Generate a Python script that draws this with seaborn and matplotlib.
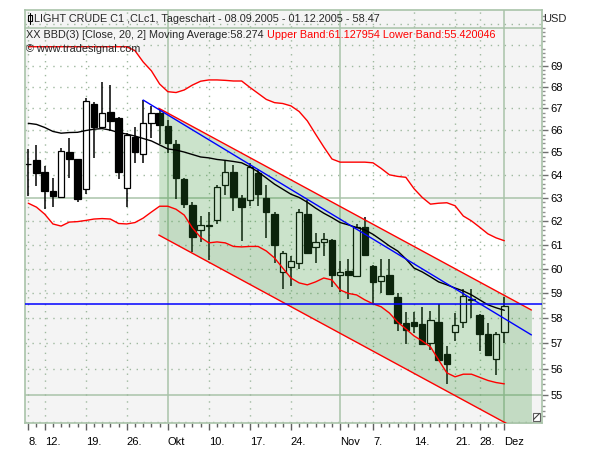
import numpy as np
import pandas as pd
import matplotlib
matplotlib.use("Agg")
import matplotlib.pyplot as plt
import seaborn as sns
from matplotlib.ticker import FixedLocator, FixedFormatter, NullFormatter
from matplotlib.patches import Rectangle

# ---------------- data ----------------
dates = [d for d in pd.bdate_range("2005-09-08", "2005-12-01")
         if d.strftime("%Y-%m-%d") not in ("2005-11-24", "2005-11-25")]

opens = [64.46, 64.66, 64.13, 63.28, 63.03, 65.01, 64.69, 63.36, 67.20, 66.16,
         66.82, 66.55, 63.40, 65.68, 64.91, 66.31, 66.77, 66.18, 65.37, 63.83,
         62.70, 61.60, 61.78, 62.03, 63.57, 64.11, 63.00, 62.92, 64.10, 62.98,
         62.29, 59.85, 60.05, 60.22, 62.29, 60.89, 61.10, 61.19, 59.75, 59.90,
         59.71, 61.74, 60.11, 59.49, 59.73, 58.84, 57.78, 57.82, 57.75, 56.99,
         57.82, 56.56, 57.43, 57.82, 58.76, 58.13, 57.35, 56.37, 57.43]
highs = [65.15, 65.33, 64.39, 63.86, 65.18, 65.64, 64.72, 67.46, 67.30, 68.23,
         68.08, 66.58, 65.85, 66.14, 67.39, 67.10, 66.95, 66.45, 65.55, 63.86,
         62.81, 62.21, 62.40, 63.55, 64.62, 64.44, 63.10, 64.50, 64.26, 63.57,
         62.40, 60.73, 60.50, 62.51, 62.88, 61.48, 61.48, 61.22, 60.31, 60.39,
         61.85, 62.15, 60.15, 60.38, 60.38, 58.99, 58.25, 58.22, 58.45, 58.29,
         58.57, 56.87, 58.18, 59.15, 59.15, 58.15, 57.78, 57.43, 58.85]
lows = [63.07, 63.52, 62.52, 62.60, 62.98, 63.88, 62.81, 63.16, 64.76, 66.05,
        65.96, 63.83, 62.60, 64.54, 64.54, 65.65, 65.35, 64.95, 62.96, 62.56,
        60.70, 61.12, 60.35, 61.86, 63.10, 62.44, 61.16, 62.65, 62.62, 61.29,
        60.21, 59.15, 59.30, 59.97, 60.60, 60.24, 60.53, 59.26, 59.05, 58.75,
        59.67, 60.50, 58.60, 58.99, 58.90, 57.47, 56.95, 57.38, 56.92, 56.72,
        56.30, 55.42, 57.09, 57.58, 57.98, 56.70, 56.50, 55.74, 57.01]
closes = [64.47, 64.07, 63.29, 63.07, 65.05, 64.72, 62.94, 67.32, 66.16, 66.77,
          66.43, 64.14, 65.78, 65.03, 66.31, 66.77, 66.21, 65.43, 63.88, 62.73,
          61.33, 61.81, 61.79, 63.46, 64.11, 63.03, 62.60, 64.34, 63.15, 62.39,
          60.98, 60.64, 60.32, 62.40, 60.66, 61.10, 61.22, 59.75, 59.85, 59.74,
          61.76, 60.57, 59.46, 59.71, 58.95, 57.80, 57.51, 57.68, 56.96, 57.90,
          56.34, 56.17, 57.70, 58.88, 58.71, 57.36, 56.52, 57.36, 58.47]

moving_avg = [66.31, 66.26, 66.12, 65.94, 65.86, 65.89, 65.90, 65.98, 66.04, 66.07,
              66.00, 65.89, 65.82, 65.73, 65.62, 65.51, 65.33, 65.15, 65.10, 65.01,
              64.90, 64.79, 64.75, 64.68, 64.64, 64.59, 64.53, 64.35, 64.13, 63.86,
              63.59, 63.37, 63.15, 63.01, 62.80, 62.55, 62.33, 62.14, 61.93, 61.83,
              61.72, 61.62, 61.43, 61.19, 60.94, 60.73, 60.40, 60.02, 59.86, 59.66,
              59.45, 59.33, 59.20, 59.08, 58.92, 58.72, 58.52, 58.40, 58.30]
upper_band = [69.90, 69.90, 69.90, 69.90, 69.90, 69.90, 69.90, 69.90, 69.90, 69.90,
              69.90, 69.90, 69.90, 69.71, 69.17, 68.75, 68.13, 67.77, 67.73, 67.85,
              68.08, 68.26, 68.32, 68.32, 68.30, 68.27, 68.27, 67.97, 67.69, 67.41,
              67.26, 67.22, 67.11, 66.85, 66.42, 65.82, 65.24, 64.70, 64.56, 64.56,
              64.56, 64.56, 64.53, 64.28, 64.00, 63.93, 63.89, 63.39, 63.01, 62.72,
              62.76, 62.78, 62.65, 62.21, 62.00, 61.73, 61.45, 61.28, 61.16]
lower_band = [62.76, 62.59, 62.29, 61.87, 61.78, 61.95, 61.97, 62.02, 62.08, 62.10,
              62.08, 61.89, 61.87, 61.93, 62.12, 62.38, 62.63, 62.63, 62.50, 62.25,
              61.70, 61.30, 61.07, 61.11, 61.07, 60.92, 60.90, 60.92, 60.92, 60.73,
              60.44, 60.02, 59.61, 59.41, 59.33, 59.45, 59.61, 59.53, 59.12, 58.98,
              58.92, 58.72, 58.56, 58.44, 58.19, 57.83, 57.56, 57.28, 57.08, 56.85,
              56.34, 55.84, 55.69, 55.79, 55.79, 55.67, 55.55, 55.47, 55.42]

# regression channel and trend line (bar index, price)
channel_idx = [15.9, 61.3]
channel_upper = [67.00, 58.31]
channel_lower = [61.40, 53.43]
trend_idx = [14.0, 61.3]
trend_price = [67.38, 57.32]
last_price_line = 58.55

tick_dates = ["2005-09-08", "2005-09-12", "2005-09-19", "2005-09-26", "2005-10-03",
              "2005-10-10", "2005-10-17", "2005-10-24", "2005-11-01", "2005-11-07",
              "2005-11-14", "2005-11-21", "2005-11-28", "2005-12-01"]
tick_labels = ["8.", "12.", "19.", "26.", "Okt", "10.", "17.", "24.", "Nov",
               "7.", "14.", "21.", "28.", "Dez"]
month_labels = ["Okt", "Nov", "Dez"]
y_labels = list(range(55, 70))

title_text = "LIGHT CRUDE C1 ,CLc1, Tageschart - 08.09.2005 - 01.12.2005 - 58.47"
ind_text = "XX BBD(3) [Close, 20, 2] Moving Average:58.274"
band_text = "Upper Band:61.127954 Lower Band:55.420046"

# ---------------- style ----------------
sns.set_style("white")
plt.rcParams["font.family"] = ["Liberation Sans", "DejaVu Sans"]
plt.rcParams["font.size"] = 8

W, H = 600, 450
L, R, T, B = 24.5, 541.5, 9.6, 422.9
fig = plt.figure(figsize=(6, 4.5), dpi=100)
fig.patch.set_facecolor("white")
ax = fig.add_axes([L / W, 1 - B / H, (R - L) / W, (B - T) / H])
ax.set_facecolor("#f4f4f4")
ax.set_yscale("log")
ax.set_ylim(53.95, 71.71)
ax.set_xlim(-0.46, 62.53)

grid_col = "#a9c3a9"
for s in ax.spines.values():
    s.set_color(grid_col)
    s.set_linewidth(1.2)

x = np.arange(len(dates))
date_str = [d.strftime("%Y-%m-%d") for d in dates]
tick_pos = [date_str.index(d) for d in tick_dates]

# band interior (white)
ax.fill_between(x, lower_band, upper_band, color="white", lw=0, zorder=0.3)

# grid
for p in range(54, 72):
    if p in (55, 63):
        ax.axhline(p, color=grid_col, lw=1.1, zorder=0.8)
    else:
        ax.axhline(p, color="#9fb99f", lw=1, ls=(0, (1, 4)), zorder=0.8)
for pos, lab in zip(tick_pos, tick_labels):
    if lab in month_labels:
        ax.axvline(pos, color=grid_col, lw=1.1, zorder=0.8)
    else:
        ax.axvline(pos, color="#9fb99f", lw=1, ls=(0, (1, 4)), zorder=0.8)

# candles
o = np.array(opens); c = np.array(closes)
hi = np.array(highs); lo = np.array(lows)
up = c >= o
bottom = np.minimum(o, c)
height = np.maximum(np.abs(c - o), 0.03)
ax.vlines(x, lo, hi, color="black", lw=1.1, zorder=2)
ax.bar(x, height, bottom=bottom, width=0.78,
       color=np.where(up, "white", "black"), edgecolor="black", lw=0.9, zorder=2.2)

# channel fill (over candles, translucent)
ax.fill_between(channel_idx, channel_lower, channel_upper,
                color="#339333", alpha=0.25, lw=0, zorder=2.5)

# bands & MA
df = pd.DataFrame({"i": x, "ma": moving_avg, "up": upper_band, "lo": lower_band})
sns.lineplot(data=df, x="i", y="up", color="#ff0000", lw=1, ax=ax, zorder=3)
sns.lineplot(data=df, x="i", y="lo", color="#ff0000", lw=1, ax=ax, zorder=3)
sns.lineplot(data=df, x="i", y="ma", color="black", lw=1, ax=ax, zorder=3)

# channel lines & trend lines
ax.plot(channel_idx, channel_upper, color="#ff0000", lw=1, zorder=4)
ax.plot(channel_idx, channel_lower, color="#ff0000", lw=1, zorder=4)
ax.plot(trend_idx, trend_price, color="#0000ff", lw=1, zorder=4)
ax.axhline(last_price_line, color="#0000ff", lw=1.1, zorder=4)

ax.set_xlabel("")
ax.set_ylabel("")

# y axis on right
ax.yaxis.tick_right()
ax.yaxis.set_major_locator(FixedLocator(y_labels))
ax.yaxis.set_major_formatter(FixedFormatter([str(v) for v in y_labels]))
minor = [round(v, 1) for v in np.arange(54.2, 71.6, 0.2) if abs(v - round(v)) > 0.05]
ax.yaxis.set_minor_locator(FixedLocator(minor))
ax.yaxis.set_minor_formatter(NullFormatter())
ax.tick_params(axis="y", which="both", left=False, right=True,
               labelleft=False, labelright=True, direction="out")
ax.tick_params(axis="y", which="major", length=4, width=1, pad=2.5,
               color="#707070", labelsize=8, labelcolor="black")
ax.tick_params(axis="y", which="minor", length=2, width=1, color="#909090")

# x axis
ax.xaxis.set_major_locator(FixedLocator(tick_pos))
ax.xaxis.set_major_formatter(FixedFormatter(tick_labels))
ax.xaxis.set_minor_locator(FixedLocator(list(x)))
ax.tick_params(axis="x", which="both", bottom=True, top=False, direction="out")
ax.tick_params(axis="x", which="major", length=5, width=1, pad=5,
               color="#606060", labelsize=8, labelcolor="black")
ax.tick_params(axis="x", which="minor", length=3, width=1, color="#606060")
for lbl in ax.get_xticklabels():
    lbl.set_ha("left")

# header
ax.plot([0, 1], [(B - 27.6) / (B - T)] * 2, transform=ax.transAxes,
        color=grid_col, lw=1.1, zorder=6, clip_on=False)
tr = ax.transAxes
def axfx(px):
    return (px - L) / (R - L)
def axfy(py):
    return (B - py) / (B - T)
# small candle icon
ax.add_patch(Rectangle((axfx(27.5), axfy(21.5)), 4 / (R - L), 6 / (B - T),
                       transform=tr, facecolor="white", edgecolor="black",
                       lw=0.8, zorder=7, clip_on=False))
ax.plot([axfx(29.5)] * 2, [axfy(24.5), axfy(13.5)], transform=tr,
        color="black", lw=0.8, zorder=7, clip_on=False)
ax.text(axfx(34), axfy(18.8), title_text, transform=tr, va="center", ha="left",
        fontsize=7.8, zorder=7)
t_ind = ax.text(axfx(26), axfy(34.6), ind_text, transform=tr, va="center",
                ha="left", fontsize=7.8, zorder=7)
ax.annotate(band_text, xy=(1, 0), xycoords=t_ind, xytext=(3, 0),
            textcoords="offset pixels", va="bottom", ha="left",
            color="#ff0000", fontsize=7.8, zorder=7)
ax.text(axfx(26), axfy(49.5), "© www.tradesignal.com", transform=tr,
        va="center", ha="left", fontsize=7.8, zorder=7)
fig.text(543 / W, 1 - 18.8 / H, "USD", va="center", ha="left", fontsize=8)

# resize handle in bottom-right corner
ax.add_patch(Rectangle((axfx(532.5), axfy(420.5)), 7.5 / (R - L), 7.5 / (B - T),
                       transform=tr, facecolor="white", edgecolor="#606060",
                       lw=0.8, zorder=7, clip_on=False))
ax.plot([axfx(533.5), axfx(539.5)], [axfy(419.5), axfy(413.5)], transform=tr,
        color="#404040", lw=0.8, zorder=7.5, clip_on=False)

fig.savefig("out.png", dpi=100, facecolor="white")
